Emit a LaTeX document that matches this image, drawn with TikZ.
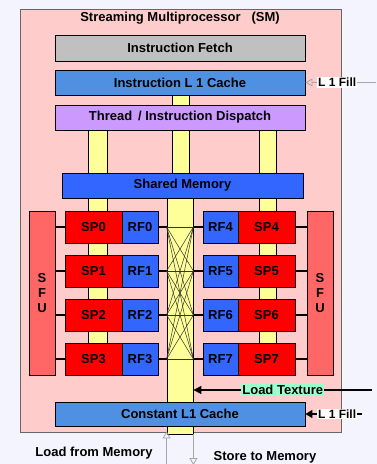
\documentclass[tikz,border=0pt]{standalone}
\usepackage{fontspec}
\setmainfont{Liberation Sans}
\usetikzlibrary{arrows.meta}

\definecolor{bgcol}{RGB}{243,244,253}
\definecolor{smcol}{RGB}{255,204,204}
\definecolor{fetchcol}{RGB}{192,192,192}
\definecolor{cachecol}{RGB}{80,144,226}
\definecolor{dispcol}{RGB}{204,153,255}
\definecolor{memcol}{RGB}{51,102,255}
\definecolor{spcol}{RGB}{255,0,0}
\definecolor{sfucol}{RGB}{255,102,102}
\definecolor{barcol}{RGB}{255,255,153}
\definecolor{texcol}{RGB}{153,255,204}

\tikzset{
  block/.style={draw=black, line width=0.8pt, minimum width=250pt, minimum height=25pt, inner sep=0pt, font=\fontsize{13}{15}\selectfont\bfseries},
  spbox/.style={draw=black, line width=0.8pt, fill=spcol, minimum width=57pt, minimum height=32pt, inner sep=0pt, font=\fontsize{13}{15}\selectfont\bfseries},
  rfbox/.style={draw=black, line width=0.8pt, fill=memcol, minimum width=36pt, minimum height=32pt, inner sep=0pt, font=\fontsize{13}{15}\selectfont\bfseries},
  sfubox/.style={draw=black, line width=0.8pt, fill=sfucol, minimum width=26pt, minimum height=164pt, inner sep=0pt, align=center, font=\fontsize{13}{15}\selectfont\bfseries},
  bar/.style={draw=black, line width=0.8pt, fill=barcol},
  stub/.style={line width=1.2pt},
  lbl/.style={inner sep=1pt, font=\fontsize{13}{15}\selectfont\bfseries},
  memarrow/.style={draw=gray!70, line width=0.8pt, -{Triangle[open, length=7pt, width=8pt]}},
}

\begin{document}
\begin{tikzpicture}[x=1pt, y=-1pt]
  \useasboundingbox[fill=bgcol] (0,0) rectangle (377,464);

  % SM frame
  \draw[fill=smcol, draw=gray!80!black, line width=0.8pt] (20,9) rectangle (341,432);
  \node[lbl] (title) at (180,18) {Streaming Multiprocessor \ \ (SM)};

  % yellow buses behind the blocks
  \draw[bar] (172,95) rectangle (189,105);
  \draw[bar] (172,130) rectangle (189,173);
  \draw[bar] (88,130) rectangle (107,350);
  \draw[bar] (259,130) rectangle (276,350);

  \node[block, fill=fetchcol, minimum height=26pt] (fetch) at (180,48) {Instruction Fetch};
  \node[block, fill=cachecol] (icache) at (180,82.5) {Instruction L 1 Cache};
  \node[block, fill=dispcol] (disp) at (180,117.5) {Thread \,/ Instruction Dispatch};
  \node[block, fill=memcol, minimum width=241pt] (smem) at (182.5,185.5) {Shared Memory};

  % crossbar
  \node[bar, minimum width=26pt, minimum height=236pt, inner sep=0pt] (xbar) at (180,316) {};

  % SFUs
  \node[sfubox] (sfuL) at (42,293) {S\\[0pt]F\\[0pt]U};
  \node[sfubox] (sfuR) at (320,293) {S\\[0pt]F\\[0pt]U};

  % SP / RF rows
  \foreach \i in {0,...,3} {
    \pgfmathtruncatemacro{\j}{\i+4}
    \node[spbox] (sp\i) at (93.5,227+44*\i) {SP\i};
    \node[rfbox] (rf\i) at (140,227+44*\i) {RF\i};
    \node[rfbox, minimum width=35pt] (rf\j) at (220.5,227+44*\i) {RF\j};
    \node[spbox] (sp\j) at (266.5,227+44*\i) {SP\j};
    \coordinate (xl\i) at (xbar.west |- rf\i.east);
    \coordinate (xr\i) at (xbar.east |- rf\j.west);
    \draw[stub] (sfuL.east |- sp\i.west) -- (sp\i.west);
    \draw[stub] (rf\i.east) -- (xl\i);
    \draw[stub] (xr\i) -- (rf\j.west);
    \draw[stub] (sp\j.east) -- (sfuR.west |- sp\j.east);
  }
  \foreach \i in {0,...,3}
    \foreach \j in {0,...,3}
      \draw[line width=0.5pt, black!80] (xl\i) -- (xr\j);

  % constant cache
  \node[block, fill=cachecol, minimum height=24pt] (ccache) at (180,414) {Constant L1 Cache};

  % fills and memory ports
  \coordinate (fillA) at (376,82.5);
  \coordinate (fillB) at (362,414);
  \coordinate (texin) at (372,390);
  \coordinate (ldin) at (xbar.south west |- 0,464);
  \coordinate (stout) at (xbar.south east |- 0,464);
  \draw[draw=gray!70, line width=0.8pt, -{Triangle[open, length=7pt, width=8pt]}] (fillA) -- (icache.east)
    node[pos=0.55, fill=white, lbl, font=\fontsize{12}{14}\selectfont\bfseries] (fillAl) {L 1 Fill};
  \draw[line width=1.2pt, -{Triangle[length=7pt, width=8pt]}] (fillB) -- (ccache.east)
    node[pos=0.44, fill=white, lbl, font=\fontsize{12}{14}\selectfont\bfseries] (fillBl) {L 1 Fill};
  \draw[line width=1.2pt, -{Triangle[length=8pt, width=8pt]}] (texin) -- (xbar.east |- texin)
    node[pos=0.5, fill=texcol, lbl] (texl) {Load Texture};
  \draw[memarrow] (ldin) -- ([yshift=3pt]xbar.south west);
  \draw[memarrow] (xbar.south east) -- ([yshift=-1pt]stout);
  \node[lbl] (ldl) at (94,453) {Load from Memory};
  \node[lbl] (stl) at (265,457) {Store to Memory};
\end{tikzpicture}
\end{document}
